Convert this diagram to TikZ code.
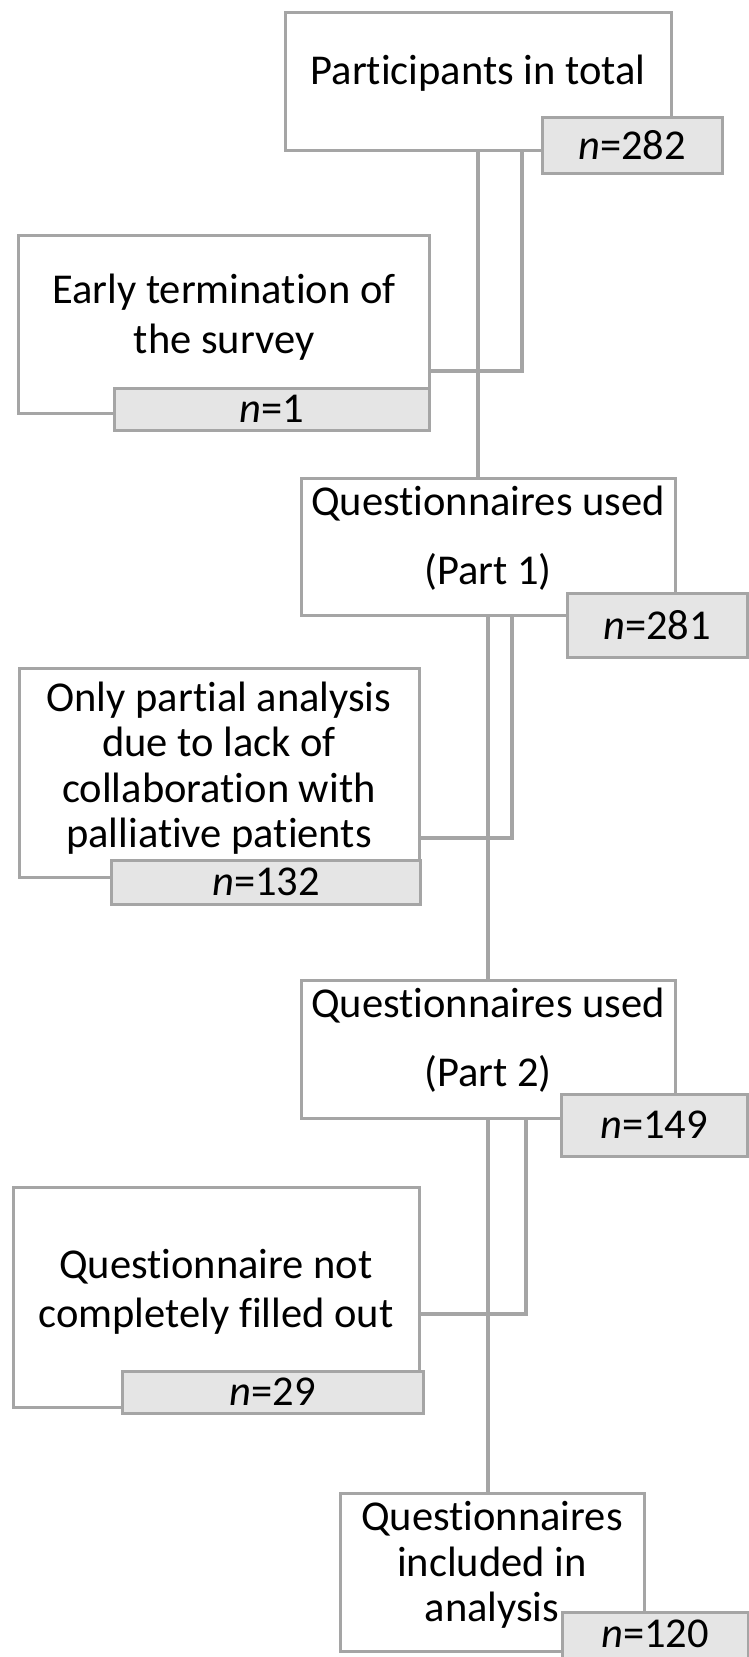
\documentclass[tikz,border=0pt]{standalone}
\usepackage{fontspec}
\setmainfont{Carlito}[Ligatures=NoCommon]
\usetikzlibrary{positioning}
\definecolor{framegray}{RGB}{165,165,165}
\definecolor{countgray}{RGB}{229,229,229}

\begin{document}
\begin{tikzpicture}[
        x=1pt, y=1pt,
        font=\fontsize{42.5}{46}\selectfont,
        block/.style={rectangle, draw=framegray, line width=3pt, fill=white, inner sep=0pt, align=center, minimum width=#1},
        count/.style={rectangle, draw=framegray, line width=3pt, fill=countgray, inner sep=0pt, minimum width=#1},
        link/.style={draw=framegray, line width=3.2pt}
    ]
        \useasboundingbox (0,0) rectangle (749,-1657);

        % main column
        \node[block=386, minimum height=138, text depth=23pt] (total) at (478,-81) {Participants in total};
        \node[block=374, minimum height=137, text depth=23pt, font=\fontsize{42.5}{69}\selectfont] (used1) at (488,-547) {Questionnaires used\\(Part 1)};
        \node[block=374, minimum height=138, text depth=23pt, font=\fontsize{42.5}{69}\selectfont] (used2) at (488,-1049) {Questionnaires used\\(Part 2)};
        \node[block=304, minimum height=158, text depth=21pt, font=\fontsize{42.5}{45.5}\selectfont] (final) at (492,-1572) {Questionnaires\\included in\\analysis};

        % exclusions
        \node[block=411, minimum height=178, text depth=20pt, font=\fontsize{42.5}{50}\selectfont] (early) at (224,-324) {Early termination of\\the survey};
        \node[block=400, minimum height=209, text depth=17pt, font=\fontsize{42.5}{45.5}\selectfont] (partial) at (219,-773) {Only partial analysis\\due to lack of\\collaboration with\\palliative patients};
        \node[block=406, minimum height=220, text depth=17pt, font=\fontsize{42.5}{49}\selectfont] (notfilled) at (216,-1297) {Questionnaire not\\completely filled out};

        % counts
        \node[count=180, minimum height=56] (n282) at (632,-145) {\textit{n}=282};
        \node[count=315, minimum height=42] (n1) at (272,-409) {\textit{n}=1};
        \node[count=180, minimum height=64] (n281) at (657,-625) {\textit{n}=281};
        \node[count=309, minimum height=44] (n132) at (266,-882) {\textit{n}=132};
        \node[count=186, minimum height=62] (n149) at (654,-1125) {\textit{n}=149};
        \node[count=301, minimum height=42] (n29) at (273,-1392) {\textit{n}=29};
        \node[count=186, anchor=north, text height=35pt, text depth=20pt] (n120) at (655,-1611) {\textit{n}=120};

        % connectors
        \draw[link] (total.south) -- (total.south |- used1.north);
        \draw[link] ([xshift=44pt]total.south) |- ([yshift=-47pt]early.east);
        \draw[link] (used1.south) -- (used2.north);
        \draw[link] ([xshift=24pt]used1.south) |- ([yshift=-65pt]partial.east);
        \draw[link] (used2.south) -- (used2.south |- final.north);
        \draw[link] ([xshift=38pt]used2.south) |- ([yshift=-17pt]notfilled.east);
    \end{tikzpicture}
\end{document}
